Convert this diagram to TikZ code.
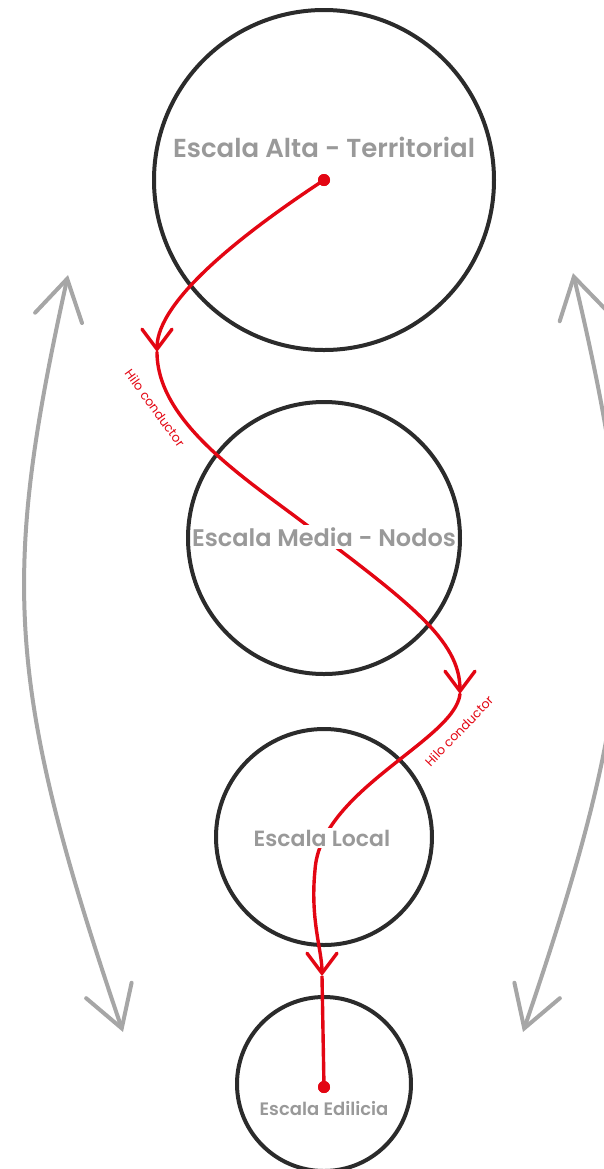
\documentclass[tikz,border=0pt]{standalone}
\usepackage{fontspec}
\setmainfont{Poppins}[BoldFont={Poppins SemiBold}]
\usetikzlibrary{arrows.meta}
\definecolor{hilo}{RGB}{227,6,19}
\definecolor{gristxt}{RGB}{153,153,153}
\definecolor{grisflecha}{RGB}{166,166,166}
\definecolor{borde}{RGB}{43,43,43}
\tikzset{
	escala/.style={circle,draw=borde,line width=2pt,inner sep=0pt},
	rotulo/.style={text=gristxt,font=\bfseries,fill=white,inner xsep=0pt,inner ysep=1pt},
	hilotramo/.style={draw=hilo,line width=1.7pt,line cap=round,-{Straight Barb[length=10pt,width=15pt,line cap=round]}},
	hilotxt/.style={text=hilo,font=\fontsize{6.3pt}{7pt}\selectfont,inner sep=0pt},
	punto/.style={circle,fill=hilo,inner sep=0pt,minimum size=6pt},
	vaiven/.style={draw=grisflecha,line width=2pt,{Straight Barb[length=20pt,width=24pt,line cap=round]}-{Straight Barb[length=20pt,width=24pt,line cap=round]}}
}
\begin{document}
\begin{tikzpicture}[x=0.5pt,y=-0.5pt]
	\useasboundingbox (0,0) rectangle (604,1169);
	\clip (0,0) rectangle (604,1169);
	% escalas
	\node[escala,minimum size=170pt] (alta) at (324,180) {};
	\node[escala,minimum size=136pt] (media) at (324,538) {};
	\node[escala,minimum size=108pt] (local) at (324,837) {};
	\node[escala,minimum size=87pt] (edilicia) at (324,1084) {};
	% flechas grises
	\coordinate (izqA) at (68,275);
	\coordinate (izqB) at (123,1032);
	\coordinate (derA) at (573,273);
	\coordinate (derB) at (523,1032);
	\draw[vaiven] (izqA) .. controls (2,575) and (4,682) .. (izqB);
	\draw[vaiven] (derA) .. controls (644,575) and (642,682) .. (derB);
	% hilo conductor
	\node[punto] (inicio) at (324,180) {};
	\node[punto] (fin) at (324,1087) {};
	\coordinate (c1) at (157,352);
	\coordinate (c2) at (300,520);
	\coordinate (c3) at (460,694);
	\coordinate (c4) at (315,870);
	\coordinate (c5) at (322,976);
	\draw[hilotramo] (inicio.center) .. controls (245,232) and (157,300) .. (c1);
	\draw[hilotramo] (c1) .. controls (157,420) and (240,475) .. (c2) .. controls (410,603) and (460,640) .. (c3);
	\draw[hilotramo] (c3) .. controls (455,740) and (320,790) .. (c4) .. controls (310,920) and (322,950) .. (c5);
	\draw[draw=hilo,line width=1.7pt] (c5) -- (fin.center);
	\node[punto] at (inicio) {};
	\node[punto] at (fin) {};
	% rotulos
	\node[rotulo,font=\fontsize{13pt}{15pt}\selectfont\bfseries] (tAlta) at (324,147) {Escala Alta - Territorial};
	\node[rotulo,font=\fontsize{12pt}{14pt}\selectfont\bfseries] (tMedia) at (324,537) {Escala Media - Nodos};
	\node[rotulo,font=\fontsize{11pt}{13pt}\selectfont\bfseries] (tLocal) at (322,838) {Escala Local};
	\node[rotulo,font=\fontsize{9pt}{11pt}\selectfont\bfseries] (tEdilicia) at (324,1109) {Escala Edilicia};
	\node[hilotxt,rotate=-54] (hilo1) at (155,408) {Hilo conductor};
	\node[hilotxt,rotate=46] (hilo2) at (459,731) {Hilo conductor};
\end{tikzpicture}
\end{document}
